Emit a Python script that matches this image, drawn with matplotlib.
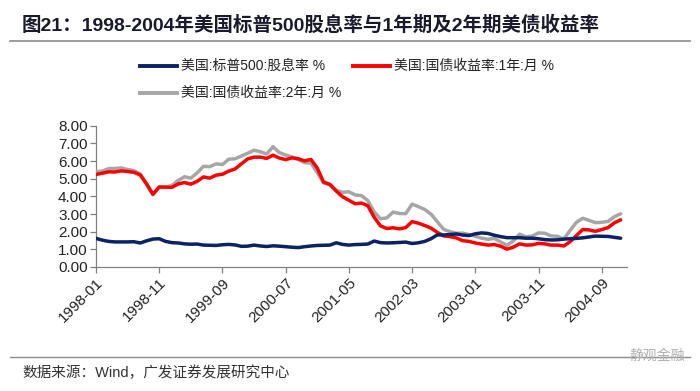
import matplotlib
matplotlib.use("Agg")
import matplotlib.pyplot as plt
import numpy as np

# ---- data (monthly, 1998-01 .. 2004-12) ----
months = [f"{y}-{m:02d}" for y in range(1998, 2005) for m in range(1, 13)]

sp500_div_yield = [
    1.62, 1.52, 1.45, 1.42, 1.42, 1.42, 1.43, 1.36, 1.48, 1.58, 1.60, 1.45,
    1.38, 1.36, 1.31, 1.29, 1.30, 1.24, 1.23, 1.22, 1.26, 1.28, 1.25, 1.17,
    1.18, 1.24, 1.19, 1.16, 1.20, 1.18, 1.15, 1.12, 1.10, 1.15, 1.19, 1.22,
    1.23, 1.24, 1.37, 1.28, 1.24, 1.27, 1.28, 1.30, 1.47, 1.38, 1.36, 1.37,
    1.39, 1.41, 1.33, 1.37, 1.45, 1.60, 1.82, 1.81, 1.84, 1.87, 1.81, 1.78,
    1.88, 1.93, 1.90, 1.80, 1.72, 1.66, 1.66, 1.66, 1.63, 1.63, 1.60, 1.55,
    1.53, 1.54, 1.58, 1.60, 1.62, 1.65, 1.70, 1.75, 1.74, 1.73, 1.68, 1.63,
]
ust_1y = [
    5.24, 5.31, 5.39, 5.38, 5.44, 5.41, 5.36, 5.21, 4.71, 4.12, 4.53, 4.52,
    4.51, 4.70, 4.78, 4.69, 4.85, 5.10, 5.03, 5.20, 5.25, 5.43, 5.55, 5.84,
    6.12, 6.22, 6.22, 6.15, 6.33, 6.17, 6.08, 6.18, 6.13, 6.01, 6.09, 5.60,
    4.81, 4.68, 4.30, 3.98, 3.78, 3.58, 3.62, 3.47, 2.82, 2.33, 2.18, 2.22,
    2.16, 2.23, 2.57, 2.48, 2.35, 2.20, 1.96, 1.76, 1.72, 1.65, 1.49, 1.45,
    1.36, 1.30, 1.24, 1.27, 1.18, 1.01, 1.12, 1.31, 1.24, 1.25, 1.34, 1.31,
    1.24, 1.24, 1.19, 1.43, 1.78, 2.12, 2.10, 2.02, 2.12, 2.23, 2.50, 2.67,
]
ust_2y = [
    5.38, 5.43, 5.57, 5.58, 5.61, 5.52, 5.46, 5.27, 4.67, 4.09, 4.53, 4.52,
    4.61, 4.90, 5.11, 5.03, 5.33, 5.70, 5.68, 5.84, 5.80, 6.10, 6.13, 6.28,
    6.44, 6.61, 6.53, 6.40, 6.81, 6.48, 6.34, 6.23, 6.08, 5.91, 5.88, 5.35,
    4.76, 4.66, 4.34, 4.23, 4.26, 4.08, 4.04, 3.76, 3.12, 2.73, 2.78, 3.11,
    3.03, 3.02, 3.56, 3.42, 3.26, 2.99, 2.56, 2.13, 2.00, 1.91, 1.92, 1.84,
    1.74, 1.63, 1.57, 1.62, 1.42, 1.23, 1.47, 1.86, 1.71, 1.75, 1.93, 1.91,
    1.76, 1.74, 1.58, 2.07, 2.53, 2.76, 2.64, 2.51, 2.53, 2.58, 2.85, 3.01,
]
series_labels = ["美国:标普500:股息率 %", "美国:国债收益率:1年:月 %", "美国:国债收益率:2年:月 %"]
yticks = [0, 1, 2, 3, 4, 5, 6, 7, 8]

title = "图21：1998-2004年美国标普500股息率与1年期及2年期美债收益率"
source = "数据来源：Wind，广发证券发展研究中心"
watermark = "静观金融"

FAM = ["Liberation Sans", "Noto Sans CJK SC", "DejaVu Sans"]
plt.rcParams["font.family"] = FAM

fig = plt.figure(figsize=(7, 3.91), dpi=100)
ax = fig.add_axes([96 / 700, 1 - 267 / 391, (627 - 96) / 700, (267 - 125.7) / 391])

x = np.arange(len(months))
ax.plot(x, sp500_div_yield, color="#0b2265", lw=2.5, solid_capstyle="round", zorder=5)
ax.plot(x, ust_1y, color="#ff0000", lw=2.5, solid_capstyle="round", zorder=4)
ax.plot(x, ust_2y, color="#a6a6a6", lw=2.5, solid_capstyle="round", zorder=3)

ax.set_xlim(0, 84)
ax.set_ylim(0, 8)
ax.set_yticks(yticks)
ax.set_yticklabels([f"{v:.2f}" for v in yticks], fontsize=11, color="#222222")
tick_pos = list(range(0, 84, 10))
ax.set_xticks(tick_pos)
ax.set_xticklabels([months[i] for i in tick_pos], rotation=45, ha="right",
                   rotation_mode="anchor", fontsize=11, color="#222222")
for s in ["top", "right"]:
    ax.spines[s].set_visible(False)
for s in ["left", "bottom"]:
    ax.spines[s].set_color("#808080")
    ax.spines[s].set_linewidth(0.9)
ax.tick_params(axis="both", direction="out", length=4, color="#808080", width=0.9)
ax.tick_params(axis="y", pad=2)
ax.tick_params(axis="x", pad=2)

# legend (manual layout to match reference)
def leg(x0, y0, color, text):
    fig.add_artist(plt.Line2D([x0 / 700, (x0 + 37) / 700], [1 - y0 / 391] * 2,
                              color=color, lw=2.8, transform=fig.transFigure))
    fig.text((x0 + 41) / 700, 1 - y0 / 391, text, fontsize=10, va="center",
             ha="left", color="#222222", family=["Liberation Sans", "Noto Sans CJK SC"])

leg(140, 66, "#0b2265", series_labels[0])
leg(353, 66, "#ff0000", series_labels[1])
leg(140, 93, "#a6a6a6", series_labels[2])

# title & rules
fig.text(22 / 700, 1 - 25 / 391, title, fontsize=14, fontweight="bold",
         va="center", ha="left", color="#1a1a2e")
fig.add_artist(plt.Line2D([10 / 700, 690 / 700], [1 - 41 / 391] * 2,
                          color="#8c8c8c", lw=1.2, transform=fig.transFigure))
fig.add_artist(plt.Line2D([10 / 700, 690 / 700], [1 - 357 / 391] * 2,
                          color="#8c8c8c", lw=1.0, transform=fig.transFigure))
fig.text(22 / 700, 1 - 373 / 391, source, fontsize=10.5, va="center", ha="left",
         color="#333333")
fig.text(685 / 700, 1 - 356 / 391, watermark, fontsize=10, va="center", ha="right",
         color="#b0b0b0", family=["Noto Sans CJK SC"])

fig.savefig("out.png", dpi=100)
